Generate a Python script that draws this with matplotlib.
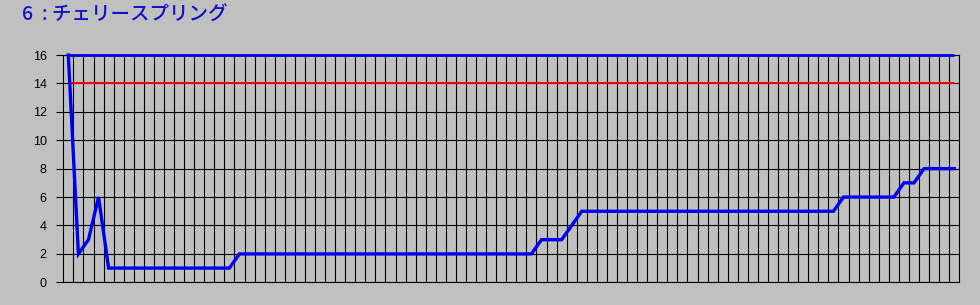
import numpy as np
from matplotlib import pyplot as plt

# values, one per column
counts = [16, 2, 3, 6,
          1, 1, 1, 1, 1, 1, 1, 1, 1, 1, 1, 1, 1,
          2, 2, 2, 2, 2, 2, 2, 2, 2, 2, 2, 2, 2, 2, 2,
          2, 2, 2, 2, 2, 2, 2, 2, 2, 2, 2, 2, 2, 2, 2,
          3, 3, 3, 4,
          5, 5, 5, 5, 5, 5, 5, 5, 5, 5, 5, 5, 5,
          5, 5, 5, 5, 5, 5, 5, 5, 5, 5, 5, 5, 5,
          6, 6, 6, 6, 6, 6,
          7, 7,
          8, 8, 8, 8]
upper_limit = 16
warn_level = 14
y_ticks = [0, 2, 4, 6, 8, 10, 12, 14, 16]
title = "6  : チェリースプリング"

bg = '#c0c0c0'
x = np.arange(len(counts))

fig = plt.figure(figsize=(9.8, 3.05), dpi=100, facecolor=bg)
ax = fig.add_axes([63.3 / 980, 22.7 / 305, 896 / 980, 227.3 / 305])
ax.set_facecolor(bg)

ax.plot(x, [upper_limit] * len(x), color='#0000f0', lw=2.0, clip_on=False, zorder=4,
        solid_capstyle='butt')
ax.plot(x, [warn_level] * len(x), color='#f00000', lw=1.5, zorder=3, solid_capstyle='butt')
ax.plot(x, counts, color='#0000f0', lw=2.4, clip_on=False, zorder=5, solid_joinstyle='miter')

ax.set_xlim(-0.5, len(counts) - 0.5)
ax.set_ylim(0, 16)

# category grid: lines between the points
ax.set_xticks(np.arange(0.5, len(counts) - 1, 1))
ax.tick_params(axis='x', length=0, labelbottom=False)
ax.set_yticks(y_ticks)
ax.tick_params(axis='y', length=5, width=0.8, color='black', pad=7, labelsize=9)
for lab in ax.get_yticklabels():
    lab.set_family('Liberation Sans')
ax.grid(True, color='black', lw=0.8)
ax.set_axisbelow(True)
for s in ax.spines.values():
    s.set_color('black')
    s.set_linewidth(0.8)

fig.text(22 / 980, 1 - 15 / 305, title, color='#1010c8', fontsize=14, weight='medium',
         family=['Noto Sans CJK JP', 'DejaVu Sans'], va='center', ha='left')

plt.savefig('out.png', dpi=100, facecolor=bg)
